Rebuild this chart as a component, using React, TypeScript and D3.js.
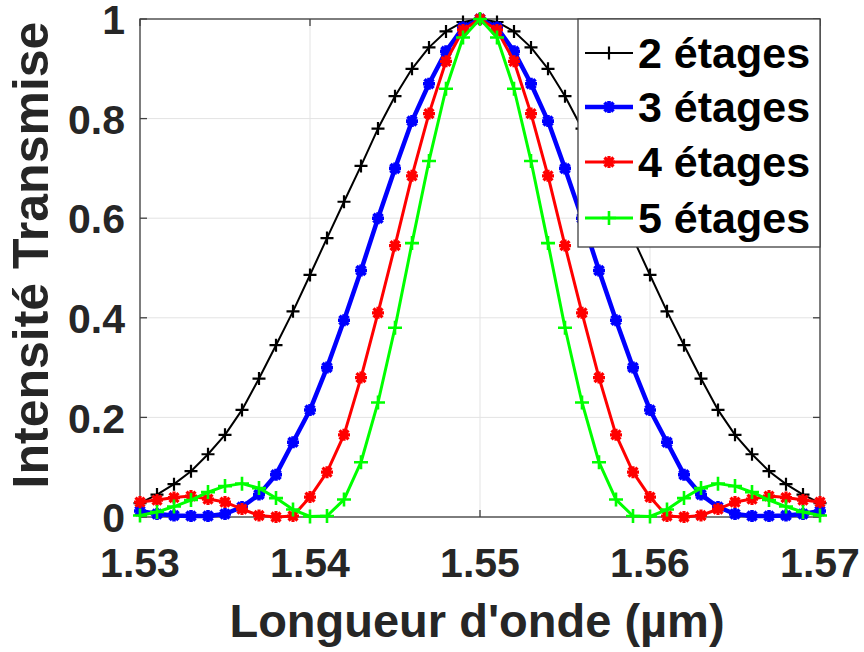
import React from "react";
import * as d3 from "d3";

const wavelengths = [
  1.53, 1.531, 1.532, 1.533, 1.534, 1.535, 1.536, 1.537, 1.538, 1.539,
  1.54, 1.541, 1.542, 1.543, 1.544, 1.545, 1.546, 1.547, 1.548, 1.549,
  1.55, 1.551, 1.552, 1.553, 1.554, 1.555, 1.556, 1.557, 1.558, 1.559,
  1.56, 1.561, 1.562, 1.563, 1.564, 1.565, 1.566, 1.567, 1.568, 1.569, 1.57,
];

const stage2 = [
  0.028, 0.045, 0.066, 0.092, 0.126, 0.165, 0.215, 0.278, 0.345, 0.413,
  0.486, 0.56, 0.633, 0.705, 0.78, 0.845, 0.9, 0.943, 0.975, 0.994,
  1.0, 0.994, 0.975, 0.943, 0.9, 0.845, 0.78, 0.705, 0.633, 0.56,
  0.486, 0.413, 0.345, 0.278, 0.215, 0.165, 0.126, 0.092, 0.066, 0.045, 0.028,
];

const stage3 = [
  0.012, 0.006, 0.003, 0.002, 0.002, 0.006, 0.02, 0.045, 0.085, 0.15,
  0.215, 0.3, 0.395, 0.495, 0.6, 0.7, 0.795, 0.87, 0.935, 0.983,
  1.0, 0.983, 0.935, 0.87, 0.795, 0.7, 0.6, 0.495, 0.395, 0.3,
  0.215, 0.15, 0.085, 0.045, 0.02, 0.006, 0.002, 0.002, 0.003, 0.006, 0.012,
];

const stage4 = [
  0.03, 0.034, 0.039, 0.042, 0.036, 0.03, 0.016, 0.003, 0.0, 0.002,
  0.04, 0.09, 0.165, 0.28, 0.41, 0.545, 0.685, 0.81, 0.915, 0.978,
  1.0, 0.978, 0.915, 0.81, 0.685, 0.545, 0.41, 0.28, 0.165, 0.09,
  0.04, 0.002, 0.0, 0.003, 0.016, 0.03, 0.036, 0.042, 0.039, 0.034, 0.03,
];

const stage5 = [
  0.003, 0.01, 0.021, 0.034, 0.05, 0.062, 0.067, 0.058, 0.038, 0.015,
  0.001, 0.002, 0.035, 0.11, 0.23, 0.38, 0.55, 0.715, 0.86, 0.963,
  1.0, 0.963, 0.86, 0.715, 0.55, 0.38, 0.23, 0.11, 0.035, 0.002,
  0.001, 0.015, 0.038, 0.058, 0.067, 0.062, 0.05, 0.034, 0.021, 0.01, 0.003,
];

const seriesNames = ["2 étages", "3 étages", "4 étages", "5 étages"];
const xTicks = [1.53, 1.54, 1.55, 1.56, 1.57];
const yTicks = [0, 0.2, 0.4, 0.6, 0.8, 1];
const yTickLabels = ["0", "0.2", "0.4", "0.6", "0.8", "1"];

const W = 864;
const H = 652;
const M = { left: 140, right: 820, top: 19, bottom: 517 };
const FONT = "'Liberation Sans', Arial, Helvetica, sans-serif";

const styles = [
  { color: "#000000", width: 2, marker: "plus", mw: 2.2, ms: 6.5 },
  { color: "#0000ff", width: 4.5, marker: "star", mw: 3.6, ms: 6 },
  { color: "#ff0000", width: 3, marker: "star", mw: 3.2, ms: 6 },
  { color: "#00ff00", width: 3, marker: "plus", mw: 2.6, ms: 7 },
];

function markerPath(type: string, s: number) {
  const plus = `M${-s},0H${s}M0,${-s}V${s}`;
  const k = s * 0.75;
  const cross = `M${-k},${-k}L${k},${k}M${-k},${k}L${k},${-k}`;
  if (type === "plus") return plus;
  if (type === "cross") return cross;
  return plus + cross;
}

export default function App() {
  const x = d3.scaleLinear().domain([1.53, 1.57]).range([M.left, M.right]);
  const y = d3.scaleLinear().domain([0, 1]).range([M.bottom, M.top]);
  const data = [stage2, stage3, stage4, stage5];
  const line = d3
    .line<number>()
    .x((_, i) => x(wavelengths[i]))
    .y((d) => y(d));

  const tickLen = 7;
  const axisColor = "#404040";
  const textColor = "#262626";

  const legend = { x: 578, y: 19, w: 242, h: 228 };
  const rowY = [53, 107, 162, 218];

  return (
    <div style={{ position: "absolute", left: 0, top: 0 }}>
      <svg width={W} height={H} style={{ display: "block", background: "#fff" }}>
        {/* grid */}
        {xTicks.map((t) => (
          <line key={"gx" + t} x1={x(t)} x2={x(t)} y1={M.top} y2={M.bottom} stroke="#e3e3e3" strokeWidth={1} />
        ))}
        {yTicks.map((t) => (
          <line key={"gy" + t} x1={M.left} x2={M.right} y1={y(t)} y2={y(t)} stroke="#e3e3e3" strokeWidth={1} />
        ))}
        {/* box */}
        <rect x={M.left} y={M.top} width={M.right - M.left} height={M.bottom - M.top} fill="none" stroke={axisColor} strokeWidth={1.3} />
        {/* ticks */}
        {xTicks.map((t) => (
          <g key={"tx" + t}>
            <line x1={x(t)} x2={x(t)} y1={M.bottom} y2={M.bottom - tickLen} stroke={axisColor} strokeWidth={1.3} />
            <line x1={x(t)} x2={x(t)} y1={M.top} y2={M.top + tickLen} stroke={axisColor} strokeWidth={1.3} />
          </g>
        ))}
        {yTicks.map((t) => (
          <g key={"ty" + t}>
            <line x1={M.left} x2={M.left + tickLen} y1={y(t)} y2={y(t)} stroke={axisColor} strokeWidth={1.3} />
            <line x1={M.right} x2={M.right - tickLen} y1={y(t)} y2={y(t)} stroke={axisColor} strokeWidth={1.3} />
          </g>
        ))}
        {/* series */}
        {data.map((vals, si) => {
          const st = styles[si];
          return (
            <g key={"s" + si}>
              <path d={line(vals) || ""} fill="none" stroke={st.color} strokeWidth={st.width} strokeLinejoin="round" />
              {vals.map((v, i) => (
                <path
                  key={i}
                  d={markerPath(st.marker, st.ms)}
                  transform={`translate(${x(wavelengths[i])},${y(v)})`}
                  stroke={st.color}
                  strokeWidth={st.mw}
                  fill="none"
                />
              ))}
            </g>
          );
        })}
        {/* tick labels */}
        {xTicks.map((t) => (
          <text key={"lx" + t} x={x(t)} y={577} textAnchor="middle" fontFamily={FONT} fontWeight="bold" fontSize={41} fill={textColor}>
            {d3.format(".2f")(t)}
          </text>
        ))}
        {yTicks.map((t, i) => (
          <text key={"ly" + t} x={125} y={y(t)} dy="0.37em" textAnchor="end" fontFamily={FONT} fontWeight="bold" fontSize={41} fill={textColor}>
            {yTickLabels[i]}
          </text>
        ))}
        {/* axis labels */}
        <text x={477} y={637} textAnchor="middle" fontFamily={FONT} fontWeight="bold" fontSize={47} fill={textColor}>
          Longueur d'onde (µm)
        </text>
        <text
          transform={`translate(48,255) rotate(-90)`}
          textAnchor="middle"
          fontFamily={FONT}
          fontWeight="bold"
          fontSize={50}
          fill={textColor}
        >
          Intensité Transmise
        </text>
        {/* legend */}
        <rect x={legend.x} y={legend.y} width={legend.w} height={legend.h} fill="#fff" stroke={axisColor} strokeWidth={1.3} />
        {seriesNames.map((name, i) => {
          const st = styles[i];
          const ly = rowY[i];
          return (
            <g key={"lg" + i}>
              <line x1={585} x2={633} y1={ly} y2={ly} stroke={st.color} strokeWidth={st.width} />
              <path d={markerPath(st.marker, st.ms)} transform={`translate(609,${ly})`} stroke={st.color} strokeWidth={st.mw} fill="none" />
              <text x={638} y={ly} dy="0.36em" fontFamily={FONT} fontWeight="bold" fontSize={43} fill="#000">
                {name}
              </text>
            </g>
          );
        })}
      </svg>
    </div>
  );
}
